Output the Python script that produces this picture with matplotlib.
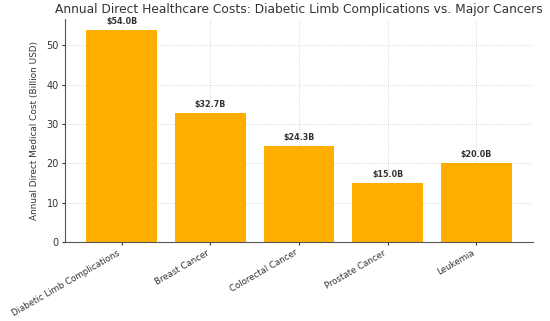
import matplotlib
matplotlib.use("Agg")
import matplotlib.pyplot as plt

categories = ["Diabetic Limb Complications", "Breast Cancer", "Colorectal Cancer",
              "Prostate Cancer", "Leukemia"]
costs = [54.0, 32.7, 24.3, 15.0, 20.0]
labels = ["$54.0B", "$32.7B", "$24.3B", "$15.0B", "$20.0B"]

fig = plt.figure(figsize=(5.5, 3.21), dpi=100)
ax = fig.add_axes([65/550, 1-242/321, 468/550, 223/321])
bars = ax.bar(categories, costs, color="#FFAE00", width=0.8, zorder=2)
ax.set_ylim(0, 56.7)
for b, lab in zip(bars, labels):
    ax.text(b.get_x() + b.get_width()/2, b.get_height() + 1.0, lab.replace("$", r"\$"),
            ha="center", va="bottom", fontsize=5.8, fontweight="bold", color="#333333")
ax.set_title("Annual Direct Healthcare Costs: Diabetic Limb Complications vs. Major Cancers",
             fontsize=8.8, color="#333333", pad=4)
ax.set_ylabel("Annual Direct Medical Cost (Billion USD)", fontsize=6.4, color="#333333",
              labelpad=5)
ax.grid(True, linestyle=":", color="#cccccc", linewidth=0.6, zorder=0)
ax.set_axisbelow(True)
for s in ["top", "right"]:
    ax.spines[s].set_visible(False)
for s in ["left", "bottom"]:
    ax.spines[s].set_color("#555555")
ax.tick_params(axis="both", labelsize=7, colors="#333333", length=2.5, pad=2)
plt.setp(ax.get_xticklabels(), rotation=30, ha="right", fontsize=6.2)
fig.savefig("out.png", dpi=100)
